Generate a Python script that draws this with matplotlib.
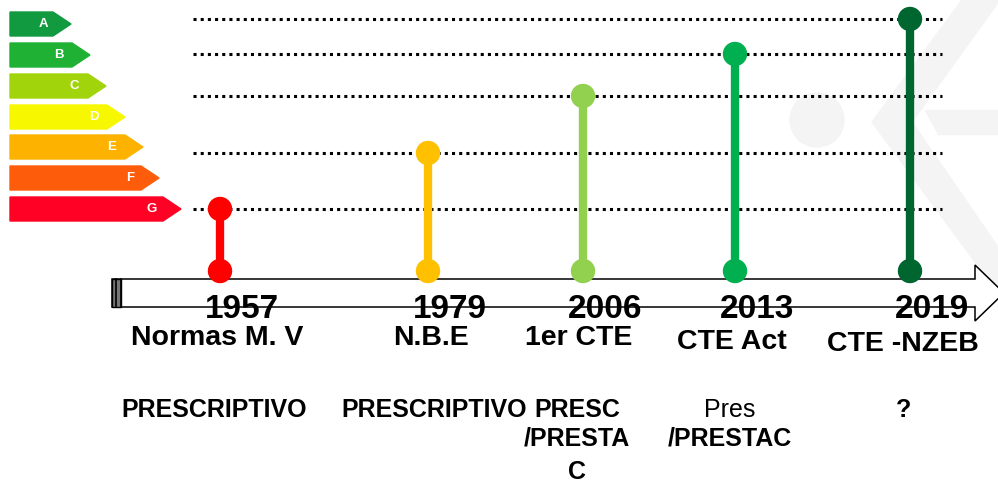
import matplotlib.pyplot as plt
from matplotlib.patches import Polygon, Circle, Rectangle

plt.rcParams['font.family'] = ['Liberation Sans', 'DejaVu Sans']

# energy classes (label strip on the left)
clases = ['A', 'B', 'C', 'D', 'E', 'F', 'G']
colores_clase = ['#119a3f', '#1eb134', '#a2d40c', '#f7f700', '#fdb200', '#fd5c0b', '#fe0125']

# milestones
anios = ['1957', '1979', '2006', '2013', '2019']
normas = ['Normas M. V', 'N.B.E', '1er CTE', 'CTE Act', 'CTE -NZEB']
clase_alcanzada = ['G', 'E', 'C', 'B', 'A']
colores_hito = ['#ff0000', '#ffc000', '#92d050', '#00b050', '#006630']
# approach text, one list per line (bold flag per milestone for line 1)
enfoque_l1 = ['PRESCRIPTIVO', 'PRESCRIPTIVO', 'PRESC', 'Pres', '?']
enfoque_l1_bold = [True, True, True, False, True]
enfoque_l2 = ['', '', '/PRESTA', '/PRESTAC', '']
enfoque_l3 = ['', '', 'C', '', '']

# layout (pixel space of the slide)
W, H = 998, 484
x_hito = [220, 428, 583, 735, 910]
y_base = 271
y_guia = {'A': 19, 'B': 54, 'C': 96, 'E': 153, 'G': 209}
fila_y = [24, 55, 86, 117, 147, 178, 209]
fila_fin = [53, 72, 88, 107, 125, 141, 163]
fila_letra = [43, 59, 74, 94, 112, 130, 152]

fig = plt.figure(figsize=(W / 100, H / 100), dpi=100)
ax = fig.add_axes([0, 0, 1, 1])
ax.set_xlim(0, W)
ax.set_ylim(H, 0)
ax.axis('off')

# faint watermark
gris = '#f4f4f4'
ax.add_patch(Circle((817, 120), 27, color=gris, zorder=0))
ax.add_patch(Polygon([(962, 0), (1000, 0), (912, 122), (1000, 250), (1000, 296), (872, 122)],
                     closed=True, color=gris, zorder=0))
ax.add_patch(Polygon([(925, 110), (1000, 110), (1000, 134), (938, 134)], closed=True,
                     color=gris, zorder=0))

# class arrows
for c, col, yc, xe, xl in zip(clases, colores_clase, fila_y, fila_fin, fila_letra):
    h = 12
    ax.add_patch(Polygon([(10, yc - h), (xe, yc - h), (xe + 18, yc), (xe, yc + h), (10, yc + h)],
                         closed=True, color=col, zorder=2))
    ax.text(xl, yc, c, color='white', fontsize=9.5, fontweight='bold',
            ha='center', va='center', zorder=3)

# dotted guides
for c, yg in y_guia.items():
    ax.plot([193, 942], [yg, yg], color='black', lw=2.2, linestyle=(0, (1, 1.35)),
            solid_capstyle='butt', dash_capstyle='butt', zorder=1)

# timeline arrow
yt, yb = 279, 307
xs = 975
ax.add_patch(Polygon([(112, yt), (xs, yt), (xs, 265), (1004, 293), (xs, 321), (xs, yb), (112, yb)],
                     closed=True, facecolor='white', edgecolor='black', lw=1.1, zorder=2))
ax.add_patch(Rectangle((112, yt), 9, yb - yt, facecolor='#777777', edgecolor='black', lw=1, zorder=2))
ax.plot([116.5, 116.5], [yt, yb], color='black', lw=1.2, zorder=2)
ax.plot([121, 121], [yt, yb], color='black', lw=1.2, zorder=2)

# lollipops
for x, cl, col in zip(x_hito, clase_alcanzada, colores_hito):
    ytop = y_guia[cl]
    ax.plot([x, x], [y_base, ytop], color=col, lw=6, solid_capstyle='butt', zorder=3)
    ax.add_patch(Circle((x, ytop), 11.5, color=col, zorder=4))
    ax.add_patch(Circle((x, y_base), 11.5, color=col, zorder=4))

# years and standards
label_dx = [-3, 3, -4, -3, -7]
label_dy = [338, 338, 338, 342, 344]
for x, a, n, dx, dy in zip(x_hito, anios, normas, label_dx, label_dy):
    ax.text(x + 22, 310, a, fontsize=24, fontweight='bold', ha='center', va='center', zorder=5)
    ax.text(x + dx, dy, n, fontsize=20.5, fontweight='bold', ha='center', va='center', zorder=5)

# approach
enf_x = [214, 434, 577, 730, 904]
for x, t1, b1, t2, t3 in zip(enf_x, enfoque_l1, enfoque_l1_bold, enfoque_l2, enfoque_l3):
    ax.text(x, 410, t1, fontsize=18, fontweight='bold' if b1 else 'normal',
            ha='center', va='center', zorder=5)
    if t2:
        ax.text(x, 439, t2, fontsize=18, fontweight='bold', ha='center', va='center', zorder=5)
    if t3:
        ax.text(x, 472, t3, fontsize=18, fontweight='bold', ha='center', va='center', zorder=5)

fig.savefig('out.png', dpi=100)
